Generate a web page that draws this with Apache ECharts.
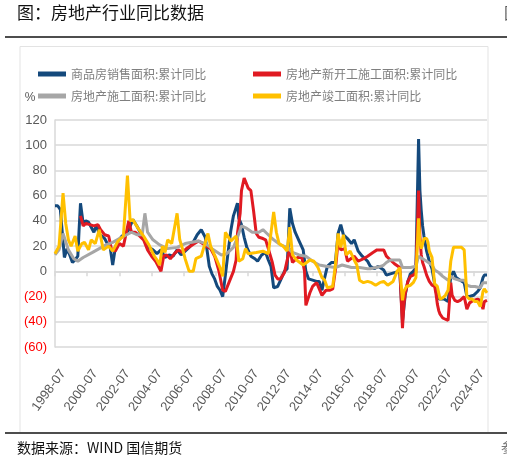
<!DOCTYPE html>
<html>
<head>
<meta charset="utf-8">
<script src="https://cdn.jsdelivr.net/npm/echarts@6/dist/echarts.min.js"></script>
<style>html,body{margin:0;padding:0;background:#fff;}#c{width:507px;height:462px;}</style>
</head>
<body>
<div id="c"></div>
<script>
// ---- categories (monthly) ----
const firstMonth = [1998, 7];
const lastMonth = [2025, 5];
const months = [];
for (let y = firstMonth[0], m = firstMonth[1]; y < lastMonth[0] || (y === lastMonth[0] && m <= lastMonth[1]); ) {
  months.push(y + '-' + (m < 10 ? '0' + m : m));
  m++; if (m > 12) { m = 1; y++; }
}
const yTicks = [-60, -40, -20, 0, 20, 40, 60, 80, 100, 120];

// ---- series: 商品房销售面积:累计同比 ----
const salesDates = ['1998-07','1998-09','1998-11','1998-12','1999-02','1999-04','1999-06','1999-08','1999-10','1999-12','2000-01','2000-02','2000-04','2000-06','2000-08','2000-10','2000-12','2001-02','2001-04','2001-06','2001-08','2001-10','2001-12','2002-02','2002-04','2002-06','2002-09','2002-12','2003-02','2003-05','2003-08','2003-11','2004-02','2004-05','2004-08','2004-11','2005-02','2005-05','2005-08','2005-11','2006-02','2006-05','2006-08','2006-11','2007-02','2007-05','2007-08','2007-11','2008-02','2008-04','2008-06','2008-08','2008-10','2008-12','2009-02','2009-04','2009-06','2009-08','2009-11','2009-12','2010-02','2010-04','2010-06','2010-09','2010-12','2011-02','2011-05','2011-08','2011-10','2011-12','2012-02','2012-05','2012-08','2012-10','2012-12','2013-02','2013-04','2013-06','2013-09','2013-12','2014-02','2014-04','2014-07','2014-10','2014-12','2015-02','2015-04','2015-06','2015-09','2015-12','2016-02','2016-04','2016-06','2016-09','2016-12','2017-02','2017-05','2017-08','2017-12','2018-02','2018-05','2018-08','2018-12','2019-02','2019-05','2019-08','2019-12','2020-02','2020-04','2020-06','2020-08','2020-10','2020-12','2021-02','2021-03','2021-04','2021-05','2021-06','2021-08','2021-10','2021-12','2022-02','2022-04','2022-06','2022-09','2022-12','2023-02','2023-04','2023-06','2023-09','2023-12','2024-02','2024-04','2024-07','2024-10','2024-12','2025-02','2025-03','2025-05'];
const salesValues = [52,52,49,36,11,18,13,7,9,12,34,54,38,40,39,35,31,37,29,28,26,22,20,5,19,24,28,30,33,41,36,30,24,19,17,14,17,11,13,12,17,13,16,19,23,29,33,27,4,-2,-6,-12,-15,-20,-3,15,32,44,54,42,37,27,19,12,10,8,13,15,9,4,-13,-12,-5,0,2,50,38,31,24,17,0,-6,-7,-8,-8,-15,-5,4,7,7,30,37,29,26,22,25,16,12,8,4,2,4,1,-3,-2,-1,0,-40,-19,-8,-2,0,3,105,64,48,36,28,16,8,2,-10,-21,-22,-22,-24,-4,0,-5,-7,-9,-20,-20,-19,-16,-13,-5,-3,-3];

// ---- series: 房地产新开工施工面积:累计同比 ----
const startsDates = ['2000-02','2000-04','2000-06','2000-09','2000-12','2001-03','2001-05','2001-08','2001-11','2002-01','2002-04','2002-07','2002-10','2003-02','2003-04','2003-07','2003-10','2004-01','2004-04','2004-07','2004-10','2005-02','2005-04','2005-06','2005-09','2005-12','2006-03','2006-06','2006-09','2006-12','2007-03','2007-06','2007-09','2007-12','2008-03','2008-06','2008-09','2008-12','2009-02','2009-05','2009-08','2009-10','2009-11','2010-01','2010-02','2010-04','2010-07','2010-09','2010-11','2011-01','2011-03','2011-06','2011-08','2011-10','2012-01','2012-03','2012-05','2012-07','2012-10','2013-02','2013-04','2013-08','2013-11','2014-01','2014-02','2014-05','2014-07','2014-10','2015-02','2015-05','2015-08','2015-10','2015-12','2016-02','2016-04','2016-07','2016-09','2017-02','2017-05','2017-09','2017-12','2018-04','2018-07','2018-10','2018-12','2019-02','2019-05','2019-08','2019-12','2020-02','2020-03','2020-04','2020-06','2020-08','2020-10','2020-12','2021-02','2021-03','2021-04','2021-05','2021-06','2021-08','2021-10','2021-12','2022-02','2022-03','2022-04','2022-05','2022-06','2022-08','2022-10','2022-12','2023-02','2023-03','2023-05','2023-07','2023-09','2023-12','2024-02','2024-04','2024-07','2024-10','2024-12','2025-02','2025-03','2025-05'];
const startsValues = [44,36,38,37,36,37,33,29,28,18,16,22,20,40,31,31,28,25,17,12,8,0,12,13,10,14,17,15,18,20,22,24,22,20,18,12,1,-15,-16,-8,0,9,30,46,64,74,66,64,48,30,27,26,25,18,7,-3,-6,-6,-1,18,7,11,11,0,-27,-17,-12,-9,-19,-15,-15,-14,1,24,17,18,8,12,8,10,12,15,17,17,17,12,9,6,3,-45,-27,-18,-8,-4,-3,-1,64,28,13,7,4,-3,-8,-11,-12,-18,-26,-31,-34,-37,-38,-39,-9,-19,-23,-24,-23,-20,-30,-25,-23,-22,-23,-30,-24,-23];

// ---- series: 房地产施工面积:累计同比 ----
const constructDates = ['1998-07','1998-10','1999-01','1999-05','1999-09','1999-12','2000-04','2000-11','2001-04','2001-09','2002-02','2002-07','2003-04','2003-08','2003-12','2004-02','2004-04','2004-08','2005-01','2005-07','2006-02','2006-08','2007-06','2007-11','2008-04','2008-11','2009-03','2009-08','2009-11','2010-02','2010-06','2010-10','2011-03','2011-06','2011-09','2012-02','2012-07','2012-12','2013-04','2013-09','2014-02','2014-07','2014-12','2015-05','2015-12','2016-05','2016-12','2017-06','2017-12','2018-02','2018-06','2018-10','2018-12','2019-02','2019-05','2019-08','2019-12','2020-02','2020-05','2020-08','2020-12','2021-02','2021-05','2021-08','2021-12','2022-02','2022-05','2022-08','2022-12','2023-02','2023-05','2023-08','2023-12','2024-02','2024-05','2024-08','2024-12','2025-02','2025-05'];
const constructValues = [13,17,30,17,10,8,11,15,18,21,23,26,31,29,29,46,31,25,21,18,19,22,24,22,18,13,14,19,27,36,34,31,31,33,30,25,21,19,15,13,12,8,5,4,3,5,3,3,2,2,3,4,5,7,9,9,9,3,3,3,4,12,10,8,5,1,-1,-4,-7,-4,-6,-7,-7,-11,-12,-12,-13,-9,-9];

// ---- series: 房地产竣工面积:累计同比 ----
const completedDates = ['1998-07','1998-10','1999-01','1999-03','1999-05','1999-07','1999-10','1999-12','2000-03','2000-05','2000-08','2000-10','2001-01','2001-04','2001-07','2001-11','2002-02','2002-06','2002-10','2003-01','2003-03','2003-05','2003-09','2004-01','2004-05','2004-09','2004-11','2005-01','2005-03','2005-05','2005-07','2005-10','2006-02','2006-04','2006-06','2006-08','2006-11','2007-02','2007-04','2007-08','2008-01','2008-03','2008-05','2008-08','2008-10','2008-12','2009-02','2009-06','2009-10','2009-12','2010-03','2010-05','2010-07','2011-01','2011-06','2011-10','2012-02','2012-04','2012-06','2012-09','2012-12','2013-02','2013-04','2013-07','2013-12','2014-05','2014-08','2014-11','2015-02','2015-04','2015-06','2015-10','2015-12','2016-02','2016-04','2016-06','2016-08','2016-11','2017-02','2017-04','2017-06','2017-09','2017-12','2018-03','2018-06','2018-09','2018-12','2019-03','2019-07','2019-10','2019-12','2020-02','2020-03','2020-05','2020-08','2020-10','2020-12','2021-02','2021-03','2021-04','2021-06','2021-08','2021-09','2021-10','2021-12','2022-02','2022-04','2022-06','2022-08','2022-10','2022-12','2023-02','2023-04','2023-06','2023-08','2023-10','2023-12','2024-02','2024-04','2024-06','2024-08','2024-10','2024-12','2025-02','2025-03','2025-05'];
const completedValues = [14,20,62,38,25,20,28,16,22,23,17,25,22,33,17,20,16,24,28,76,40,41,34,28,21,12,9,5,20,15,25,22,46,25,18,10,0,0,10,12,30,20,15,8,3,-4,31,24,28,8,10,18,14,15,16,14,47,31,22,20,16,35,13,9,5,9,8,3,-5,-7,-13,-12,5,30,19,29,13,16,9,5,-7,-9,-8,-9,-11,-9,-8,-11,-8,0,3,-23,-16,-12,-11,-9,-5,42,23,18,26,26,23,16,11,-10,-12,-22,-21,-19,-15,8,19,19,19,19,17,-20,-22,-22,-24,-24,-28,-16,-14,-17];

const seriesNames = ['商品房销售面积:累计同比', '房地产新开工施工面积:累计同比', '房地产施工面积:累计同比', '房地产竣工面积:累计同比'];
const seriesColors = ['#14497c', '#e01a22', '#a6a6a6', '#ffc000'];

function pairs(d, v) { return d.map((x, i) => [x, v[i]]); }
const seriesData = [pairs(salesDates, salesValues), pairs(startsDates, startsValues), pairs(constructDates, constructValues), pairs(completedDates, completedValues)];

const cjk = '"Noto Sans CJK SC", sans-serif';
const num = '"Liberation Sans", sans-serif';

const chart = echarts.init(document.getElementById('c'), null, { renderer: 'canvas' });
chart.setOption({
  animation: false,
  backgroundColor: '#ffffff',
  graphic: [
    { type: 'text', left: 17, top: 4, style: { text: '图：房地产行业同比数据', fill: '#111', font: '17px ' + cjk } },
    { type: 'text', left: 504, top: 5, style: { text: '图', fill: '#555', font: '16px ' + cjk } },
    { type: 'line', shape: { x1: 5, y1: 37, x2: 507, y2: 37 }, style: { stroke: '#4d4d4d', lineWidth: 2 } },
    { type: 'rect', shape: { x: 20, y: 46.5, width: 468, height: 386 }, style: { fill: 'none', stroke: '#e3e3e3', lineWidth: 1 } },
    { type: 'line', shape: { x1: 5, y1: 433, x2: 507, y2: 433 }, style: { stroke: '#4d4d4d', lineWidth: 2 } },
    { type: 'text', left: 17, top: 441, style: { text: '数据来源：WIND 国信期货', fill: '#111', font: '14px ' + cjk } },
    { type: 'text', left: 501, top: 441, style: { text: '参', fill: '#777', font: '13px ' + cjk } }
  ],
  legend: [
    { left: 33, top: 63, orient: 'vertical', itemWidth: 28, itemHeight: 5, itemGap: 10, icon: 'rect',
      data: [seriesNames[0], seriesNames[2]], textStyle: { color: '#7f7f7f', fontSize: 12, fontFamily: cjk } },
    { left: 248, top: 63, orient: 'vertical', itemWidth: 28, itemHeight: 5, itemGap: 10, icon: 'rect',
      data: [seriesNames[1], seriesNames[3]], textStyle: { color: '#7f7f7f', fontSize: 12, fontFamily: cjk } }
  ],
  grid: [
    { left: 55, right: 20, top: 120, bottom: 115 },
    { left: 63, right: 12, top: 120, bottom: 115 }
  ],
  xAxis: [
    { type: 'category', gridIndex: 0, data: months, boundaryGap: false, position: 'top',
      axisLine: { show: true, onZero: true, lineStyle: { color: '#d9d9d9', width: 1.5 } },
      axisTick: { show: true, interval: 23, inside: true, length: 5, lineStyle: { color: '#d9d9d9', width: 1.5 } },
      axisLabel: { show: false }, splitLine: { show: false } },
    { type: 'category', gridIndex: 1, data: months, boundaryGap: false, position: 'bottom',
      axisLine: { show: false, onZero: false }, axisTick: { show: false },
      axisLabel: { interval: 23, rotate: 54, color: '#595959', fontSize: 13, fontFamily: num, margin: 24 },
      splitLine: { show: false } }
  ],
  yAxis: [
    {
      type: 'value', gridIndex: 0, min: yTicks[0], max: yTicks[yTicks.length - 1], interval: 20,
      name: '%', nameLocation: 'end', nameGap: 16,
      nameTextStyle: { color: '#595959', fontSize: 12, fontFamily: num, padding: [0, 50, 0, 0] },
      axisLine: { show: true, lineStyle: { color: '#d9d9d9', width: 1.5 } },
      axisTick: { show: false },
      splitLine: { lineStyle: { color: '#d9d9d9', width: 1.5 } },
      axisLabel: {
        margin: 8, fontSize: 13, fontFamily: num,
        formatter: function (v) { v = Number(v); return v < 0 ? '(' + (-v) + ')' : String(v); },
        color: function (v) { return Number(v) < 0 ? '#ff0000' : '#595959'; }
      }
    },
    { type: 'value', gridIndex: 1, min: yTicks[0], max: yTicks[yTicks.length - 1], show: false }
  ],
  series: seriesNames.map((n, i) => ({
    name: n, type: 'line', xAxisIndex: 0, yAxisIndex: 0, data: seriesData[i], showSymbol: false, symbol: 'none',
    lineStyle: { color: seriesColors[i], width: 3 }, itemStyle: { color: seriesColors[i] }
  }))
});
</script>
</body>
</html>
